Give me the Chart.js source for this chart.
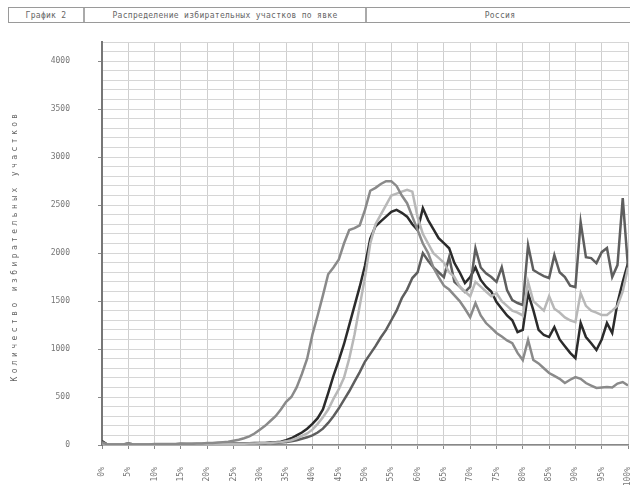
<!DOCTYPE html>
<html>
<head>
<meta charset="utf-8">
<script src="https://cdn.jsdelivr.net/npm/chart.js@4/dist/chart.umd.min.js"></script>
<style>
  body { margin: 0; background: #fff; }
  .quadro { position: relative; width: 630px; height: 485px; overflow: hidden; }
  .cabecalho {
    position: absolute; left: 8px; top: 7px; width: 624px; height: 14px;
    border: 1px solid #9a9a9a; display: flex;
    font: 8px "DejaVu Sans Mono", monospace; color: #666; letter-spacing: 0.3px;
  }
  .cabecalho div { display: flex; align-items: center; justify-content: center; }
  .c1 { width: 74px; }
  .c2 { width: 280px; border-left: 2px solid #aaa; }
  .c3 { flex: 1; border-left: 2px solid #aaa; }
  canvas { position: absolute; left: 0; top: 0; }
</style>
</head>
<body>
<div class="quadro">
  <div class="cabecalho">
    <div class="c1">График 2</div>
    <div class="c2">Распределение избирательных участков по явке</div>
    <div class="c3">Россия</div>
  </div>
  <canvas id="grafico" width="630" height="485"></canvas>
</div>
<script>
// явка, %
const turnout = [0,1,2,3,4,5,6,7,8,9,10,11,12,13,14,15,16,17,18,19,20,21,22,23,24,25,26,27,28,29,30,31,32,33,34,35,36,37,38,39,40,41,42,43,44,45,46,47,48,49,50,51,52,53,54,55,56,57,58,59,60,61,62,63,64,65,66,67,68,69,70,71,72,73,74,75,76,77,78,79,80,81,82,83,84,85,86,87,88,89,90,91,92,93,94,95,96,97,98,99,100];

const xTickLabels = ['0%','5%','10%','15%','20%','25%','30%','35%','40%','45%','50%','55%','60%','65%','70%','75%','80%','85%','90%','95%','100%'];
const yTickLabels = [0, 500, 1000, 1500, 2000, 2500, 3000, 3500, 4000];
const yTitle = 'Количество избирательных участков';

const serieA = [
  30,5,5,5,5,15,5,5,5,5,
  10,10,10,10,10,15,12,12,15,15,
  20,20,25,30,35,45,55,70,90,120,
  160,200,250,300,370,450,500,600,740,900,
  1150,1350,1560,1780,1850,1930,2100,2240,2260,2290,
  2450,2650,2680,2720,2750,2750,2700,2600,2520,2380,
  2240,2100,2000,1850,1750,1660,1620,1560,1500,1420,
  1333,1479,1350,1271,1220,1167,1130,1090,1062,960,
  885,1094,885,850,800,750,720,690,646,680,
  708,690,646,620,594,600,604,600,640,656,620
];

const serieB = [
  40,5,5,5,5,15,5,5,5,5,
  8,8,8,8,8,10,10,10,10,10,
  12,12,12,14,14,15,15,16,18,20,
  20,22,25,28,35,50,70,100,130,170,
  220,280,370,540,720,880,1050,1250,1450,1650,
  1870,2150,2280,2330,2380,2430,2450,2420,2380,2300,
  2240,2469,2344,2250,2156,2104,2050,1896,1800,1688,
  1750,1850,1720,1650,1600,1490,1420,1350,1300,1177,
  1200,1583,1406,1200,1146,1125,1229,1100,1030,960,
  906,1271,1125,1060,990,1100,1271,1167,1479,1700,1896
];

const serieC = [
  20,5,5,5,5,10,5,5,5,5,
  6,6,6,6,6,8,8,8,8,8,
  10,10,10,12,12,12,13,14,15,16,
  18,20,22,25,30,38,50,70,95,120,
  160,220,290,370,480,580,700,900,1150,1450,
  1750,2100,2300,2400,2500,2600,2620,2640,2660,2640,
  2375,2200,2100,2000,1950,1900,1800,1750,1650,1600,
  1550,1700,1650,1600,1550,1583,1500,1450,1400,1380,
  1350,1700,1500,1450,1400,1550,1420,1380,1330,1300,
  1280,1583,1450,1400,1380,1354,1354,1400,1450,1600,1850
];

const serieD = [
  25,5,5,5,5,10,5,5,5,5,
  6,6,6,6,6,8,8,8,8,8,
  10,10,10,11,11,12,12,13,14,14,
  15,18,20,22,25,30,40,50,65,80,
  100,130,170,230,300,380,470,560,660,760,
  870,950,1030,1120,1200,1300,1400,1530,1620,1740,
  1800,2000,1920,1850,1800,1750,1958,1700,1650,1594,
  1650,2050,1850,1790,1750,1700,1854,1615,1510,1480,
  1460,2083,1823,1790,1760,1740,1979,1800,1750,1660,
  1646,2323,1958,1948,1896,2010,2052,1750,1875,2573,1850
];

function pontos(serie) {
  return serie.map((v, i) => ({ x: turnout[i], y: v }));
}

function linha(serie, cor) {
  return {
    data: pontos(serie),
    borderColor: cor,
    borderWidth: 2.5,
    pointRadius: 0,
    fill: false,
    tension: 0
  };
}

const fonteEixo = { family: 'DejaVu Sans Mono', size: 8 };

// подпись оси Y с разрядкой букв
const tituloEixoY = {
  id: 'tituloEixoY',
  afterDraw(chart) {
    const ctx = chart.ctx;
    ctx.save();
    ctx.translate(15, 246);
    ctx.rotate(-Math.PI / 2);
    ctx.font = '8px "DejaVu Sans Mono"';
    ctx.letterSpacing = '3.4px';
    ctx.fillStyle = '#666';
    ctx.textAlign = 'center';
    ctx.textBaseline = 'middle';
    ctx.fillText(yTitle, 0, 0);
    ctx.restore();
  }
};

const ctx = document.getElementById('grafico').getContext('2d');
new Chart(ctx, {
  type: 'line',
  data: {
    datasets: [
      linha(serieA, '#8a8a8a'),
      linha(serieC, '#b8b8b8'),
      linha(serieD, '#5e5e5e'),
      linha(serieB, '#2b2b2b')
    ]
  },
  options: {
    responsive: false,
    animation: false,
    layout: { padding: { top: 42, right: 2, left: 0, bottom: 0 } },
    plugins: {
      legend: { display: false },
      tooltip: { enabled: false }
    },
    scales: {
      x: {
        type: 'linear',
        min: 0,
        max: 100,
        afterFit: (scale) => {
          scale.height = 40;
          scale.paddingLeft = 0;
          scale.paddingRight = 0;
        },
        ticks: {
          stepSize: 5,
          autoSkip: false,
          minRotation: 90,
          maxRotation: 90,
          padding: 18,
          font: fonteEixo,
          color: '#777',
          callback: (v) => xTickLabels[v / 5]
        },
        grid: { color: '#cfcfcf', tickLength: 4, tickColor: '#888' },
        border: { color: '#888', width: 1.5 }
      },
      y: {
        min: 0,
        max: 4200,
        afterFit: (scale) => {
          scale.width = 102;
          scale.paddingTop = 0;
          scale.paddingBottom = 0;
        },
        ticks: {
          stepSize: 100,
          autoSkip: false,
          padding: 28,
          font: fonteEixo,
          color: '#777',
          callback: (v) => yTickLabels.includes(v) ? v : ''
        },
        grid: {
          color: '#d6d6d6',
          tickLength: 4,
          tickColor: (c) => yTickLabels.includes(c.tick.value) ? '#888' : 'transparent'
        },
        border: { color: '#777', width: 2 }
      }
    }
  },
  plugins: [tituloEixoY]
});
</script>
</body>
</html>
